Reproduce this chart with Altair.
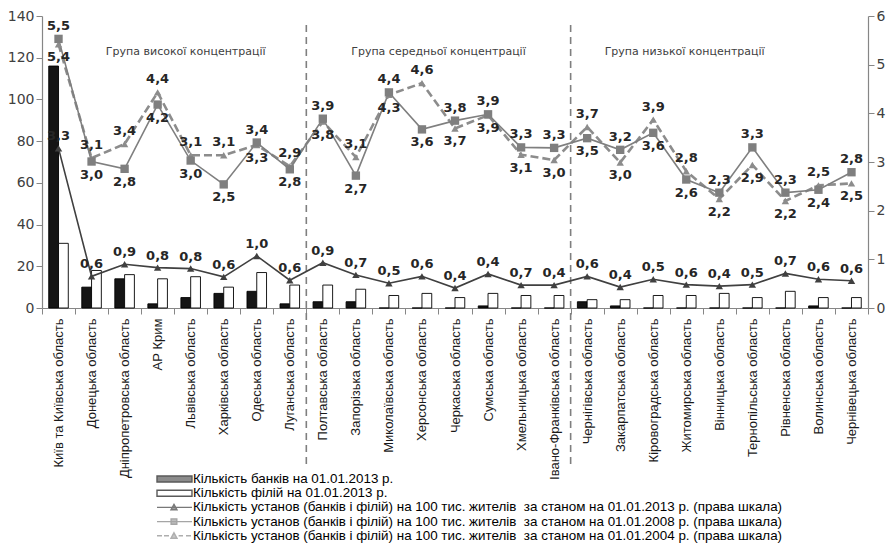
import altair as alt
import pandas as pd

regions = [
    "Київ та Київська область", "Донецька область", "Дніпропетровська область",
    "АР Крим", "Львівська область", "Харківська область", "Одеська область",
    "Луганська область", "Полтавська область", "Запорізька область",
    "Миколаївська область", "Херсонська область", "Черкаська область",
    "Сумська область", "Хмельницька область", "Івано-Франківська область",
    "Чернігівська область", "Закарпатська область", "Кіровоградська область",
    "Житомирська область", "Вінницька область", "Тернопільська область",
    "Рівненська область", "Волинська область", "Чернівецька область",
]
banks = [116, 10, 14, 2, 5, 7, 8, 2, 3, 3, 0, 0, 0, 1, 0, 0, 3, 1, 0, 0, 0, 0, 0, 1, 0]
branches = [31, 18, 16, 14, 15, 10, 17, 11, 11, 9, 6, 7, 5, 7, 6, 6, 4, 4, 6, 6, 7, 5, 8, 5, 5]

v2013 = [3.28, 0.65, 0.90, 0.83, 0.81, 0.64, 1.07, 0.57, 0.93, 0.68, 0.51, 0.65, 0.41,
         0.70, 0.47, 0.47, 0.65, 0.43, 0.59, 0.48, 0.45, 0.48, 0.71, 0.59, 0.56]
l2013 = ["3,3", "0,6", "0,9", "0,8", "0,8", "0,6", "1,0", "0,6", "0,9", "0,7", "0,5", "0,6", "0,4",
         "0,4", "0,7", "0,4", "0,6", "0,4", "0,5", "0,6", "0,4", "0,5", "0,7", "0,6", "0,6"]
v2008 = [5.53, 3.01, 2.86, 4.18, 3.03, 2.54, 3.40, 2.85, 3.89, 2.72, 4.43, 3.67, 3.85,
         3.98, 3.30, 3.29, 3.49, 3.25, 3.60, 2.64, 2.37, 3.30, 2.37, 2.43, 2.79]
l2008 = ["5,5", "3,0", "2,8", "4,2", "3,0", "2,5", "3,4", "2,8", "3,9", "2,7", "4,4", "3,6", "3,8",
         "3,9", "3,3", "3,3", "3,5", "3,2", "3,6", "2,6", "2,3", "3,3", "2,3", "2,4", "2,8"]
v2004 = [5.42, 3.08, 3.37, 4.43, 3.14, 3.14, 3.35, 2.91, 3.83, 3.10, 4.38, 4.62, 3.69,
         3.96, 3.15, 3.04, 3.72, 2.99, 3.87, 2.81, 2.24, 2.94, 2.20, 2.52, 2.56]
l2004 = ["5,4", "3,1", "3,4", "4,4", "3,1", "3,1", "3,3", "2,9", "3,8", "3,1", "4,3", "4,6", "3,7",
         "3,9", "3,1", "3,0", "3,7", "3,0", "3,9", "2,8", "2,2", "2,9", "2,2", "2,5", "2,5"]

series_names = [
    "Кількість банків на 01.01.2013 р.",
    "Кількість філій на 01.01.2013 р.",
    "Кількість установ (банків і філій) на 100 тис. жителів\u00a0 за станом на 01.01.2013 р. (права шкала)",
    "Кількість установ (банків і філій) на 100 тис. жителів\u00a0 за станом на 01.01.2008 р. (права шкала)",
    "Кількість установ (банків і філій) на 100 тис. жителів\u00a0 за станом на 01.01.2004 р. (права шкала)",
]
group_names = ["Група високої концентрації", "Група середньої концентрації", "Група низької концентрації"]
group_anchor = ["Львівська область", "Черкаська область", "Житомирська область"]
group_band = [0.35, 0.0, 0.45]
separators = ["Полтавська область", "Чернігівська область"]

n = len(regions)
bars_df = pd.DataFrame({
    "region": regions * 2,
    "kind": [series_names[0]] * n + [series_names[1]] * n,
    "value": banks + branches,
})
wide = pd.DataFrame({"region": regions, "v2013": v2013, "v2008": v2008, "v2004": v2004,
                     "l2013": l2013, "l2008": l2008, "l2004": l2004})
wide["up2008"] = wide["v2008"] >= wide["v2004"]
wide["up2004"] = ~wide["up2008"]

xscale = alt.Scale(domain=regions, paddingInner=0, paddingOuter=0)
xaxis = alt.Axis(title=None, labelAngle=-90, tickBand="extent", labelFont="Liberation Sans",
                 labelFontSize=13, labelColor="#1a1a1a", tickSize=6, labelPadding=4,
                 labelLimit=300)


def X(bp=0.5):
    return alt.X("region:N", scale=xscale, axis=xaxis, bandPosition=bp)


bars = alt.Chart(bars_df).mark_bar(stroke="#000000", strokeWidth=0.9).encode(
    x=X(),
    xOffset=alt.XOffset("kind:N", scale=alt.Scale(domain=series_names[:2], paddingOuter=0.69)),
    y=alt.Y("value:Q", scale=alt.Scale(domain=[0, 140]),
            axis=alt.Axis(title=None, values=list(range(0, 141, 20)), tickSize=6)),
    color=alt.Color("kind:N", scale=alt.Scale(domain=series_names[:2], range=["#151515", "#ffffff"]),
                    legend=None),
)

sep = alt.Chart(pd.DataFrame({"region": separators})).mark_rule(
    color="#7f7f7f", strokeWidth=1.6, strokeDash=[7, 5]
).encode(x=X(0), y=alt.value(9), y2=alt.value(449))

gdf = pd.DataFrame({"region": group_anchor, "name": group_names})
gtexts = [
    alt.Chart(gdf.iloc[[i]]).mark_text(
        font="DejaVu Sans", fontSize=11, color="#404040", align="center"
    ).encode(x=X(group_band[i]), y=alt.value(36), text="name:N")
    for i in range(3)
]

tri = "M1.83,-0.5L2.33,0.4L1.33,0.4Z"
paths = [
    "M-1,-0.5H4.83V0.5H-1Z",
    "M-1,-0.5H4.83V0.5H-1Z",
    "M-1,0H4.83M" + tri[1:],
    "M-1,0H4.83M1.35,-0.45H2.3V0.45H1.35Z",
    "M-1,0H-0.17M0.17,0H1.0M2.6,0H3.33M3.83,0H4.67M" + tri[1:],
]
fills = ["#151515", "#ffffff", "#404040", "#7f7f7f", "#8c8c8c"]
strokes = ["#151515", "#151515", "#404040", "#7f7f7f", "#8c8c8c"]
leg = alt.Legend(title=None, orient="none", legendX=114, legendY=456, direction="vertical",
                 labelFont="Liberation Sans", labelFontSize=13.4, labelColor="#000000",
                 symbolSize=144, symbolStrokeWidth=1.4, labelOffset=23, rowPadding=0.2,
                 labelLimit=900)
legend_layer = alt.Chart(bars_df).transform_filter("false").mark_point(filled=True).encode(
    shape=alt.Shape("kind:N", scale=alt.Scale(domain=series_names, range=paths), legend=leg),
    fill=alt.Fill("kind:N", scale=alt.Scale(domain=series_names, range=fills), legend=leg),
    stroke=alt.Stroke("kind:N", scale=alt.Scale(domain=series_names, range=strokes), legend=leg),
)

left = alt.layer(bars, sep, *gtexts, legend_layer)

yr = alt.Scale(domain=[0, 6])
yaxis_r = alt.Axis(title=None, orient="right", values=list(range(0, 7)), tickSize=6)
base = alt.Chart(wide)


def Y(field):
    return alt.Y(f"{field}:Q", scale=yr, axis=yaxis_r)


line04 = base.mark_line(color="#8c8c8c", strokeWidth=2.6, strokeDash=[8, 4]).encode(x=X(), y=Y("v2004"))
pt04 = base.mark_point(shape="triangle-up", filled=True, color="#8c8c8c", size=55, opacity=1).encode(x=X(), y=Y("v2004"))
line08 = base.mark_line(color="#7f7f7f", strokeWidth=1.6).encode(x=X(), y=Y("v2008"))
pt08 = base.mark_point(shape="square", filled=True, color="#7f7f7f", size=70, opacity=1).encode(x=X(), y=Y("v2008"))
line13 = base.mark_line(color="#404040", strokeWidth=1.6).encode(x=X(), y=Y("v2013"))
pt13 = base.mark_point(shape="triangle-up", filled=True, color="#404040", size=55, opacity=1).encode(x=X(), y=Y("v2013"))

tstyle = dict(font="DejaVu Sans", fontSize=13, fontWeight="bold", color="#262626")
t13 = base.mark_text(baseline="bottom", dy=-5, **tstyle).encode(x=X(), y=Y("v2013"), text="l2013:N")
t08u = base.transform_filter("datum.up2008").mark_text(baseline="bottom", dy=-6, **tstyle).encode(
    x=X(), y=Y("v2008"), text="l2008:N")
t08d = base.transform_filter("!datum.up2008").mark_text(baseline="top", dy=7, **tstyle).encode(
    x=X(), y=Y("v2008"), text="l2008:N")
t04u = base.transform_filter("datum.up2004").mark_text(baseline="bottom", dy=-6, **tstyle).encode(
    x=X(), y=Y("v2004"), text="l2004:N")
t04d = base.transform_filter("!datum.up2004").mark_text(baseline="top", dy=7, **tstyle).encode(
    x=X(), y=Y("v2004"), text="l2004:N")

right = alt.layer(line04, line08, line13, pt04, pt08, pt13, t13, t08u, t08d, t04u, t04d)

chart = alt.layer(left, right).resolve_scale(y="independent").properties(
    width=826, height=292,
    autosize=alt.AutoSizeParams(type="none"),
    padding={"left": 34, "top": 8, "right": 19, "bottom": 245},
).configure_view(stroke=None).configure_axis(
    grid=False, labelFont="DejaVu Sans", labelFontSize=14, labelColor="#404040",
    domainColor="#868686", tickColor="#868686", domainWidth=1.2,
)

chart.save("out.html", embed_options={"renderer": "svg", "actions": False})
